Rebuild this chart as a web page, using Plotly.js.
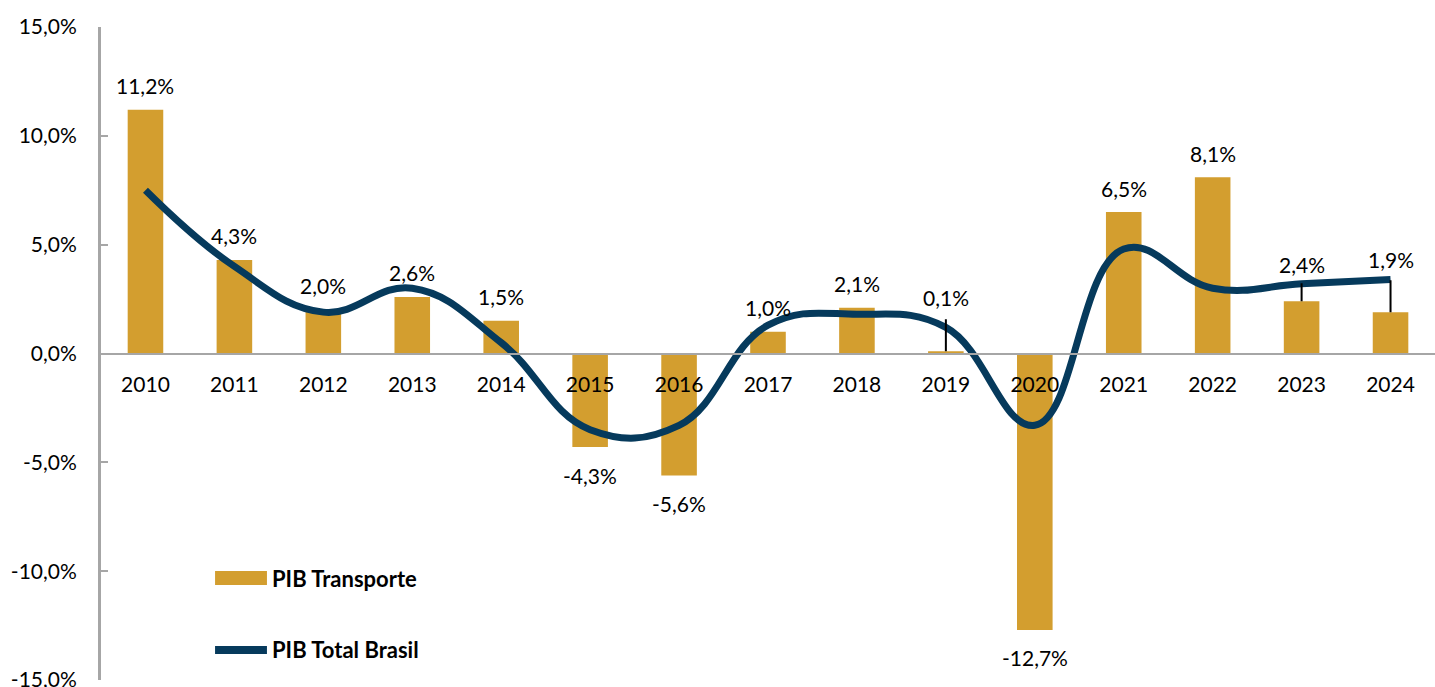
<!DOCTYPE html>
<html>
<head>
<meta charset="utf-8">
<script src="https://cdn.plot.ly/plotly-3.0.1.min.js"></script>
<style>
  html, body { margin: 0; padding: 0; background: #fff; }
  #chart { width: 1435px; height: 687px; }
</style>
</head>
<body>
<div id="chart"></div>
<script>
// ---- data ----
const years = ['2010','2011','2012','2013','2014','2015','2016','2017','2018','2019','2020','2021','2022','2023','2024'];
const pibTransporte = [11.2, 4.3, 2.0, 2.6, 1.5, -4.3, -5.6, 1.0, 2.1, 0.1, -12.7, 6.5, 8.1, 2.4, 1.9];
const pibTotalBrasil = [7.5, 4.0, 1.9, 3.0, 0.5, -3.5, -3.3, 1.3, 1.8, 1.2, -3.3, 4.8, 3.0, 3.2, 3.4];
const yTicks = [-15, -10, -5, 0, 5, 10, 15];
const seriesNames = ['PIB Transporte', 'PIB Total Brasil'];

// ---- style ----
const BAR_COLOR = '#d39e2f';
const LINE_COLOR = '#063a5c';
const AXIS_COLOR = '#a6a6a6';
const FONT = 'Lato, "Open Sans", sans-serif';
const FS = 21;

// labels that use a leader line (offset in px above the bar top)
const leader = { '2019': {ay: -54, stand: 8}, '2023': {ay: -37, stand: 5}, '2024': {ay: -53, stand: 7} };

function fmt(v) { return v.toFixed(1).replace('.', ',') + '%'; }

const bars = {
  type: 'bar', x: years, y: pibTransporte, name: seriesNames[0],
  marker: { color: BAR_COLOR }, showlegend: false, hoverinfo: 'x+y'
};
const line = {
  type: 'scatter', mode: 'lines', x: years, y: pibTotalBrasil, name: seriesNames[1],
  line: { color: LINE_COLOR, width: 7, shape: 'spline', smoothing: 1.2 },
  showlegend: false
};

const annotations = [];
years.forEach((yr, i) => {
  const v = pibTransporte[i];
  if (leader[yr]) {
    annotations.push({
      x: i, y: v, xref: 'x', yref: 'y', text: fmt(v), showarrow: true,
      ax: 0, ay: leader[yr].ay, arrowhead: 0, arrowwidth: 2, arrowcolor: '#000',
      startstandoff: leader[yr].stand, standoff: 0,
      font: { family: FONT, size: FS, color: '#000' }
    });
  } else {
    annotations.push({
      x: i, y: v, xref: 'x', yref: 'y', text: fmt(v), showarrow: false,
      xanchor: 'center', yanchor: 'middle', yshift: v >= 0 ? 24 : -28,
      font: { family: FONT, size: FS, color: '#000' }
    });
  }
});

// custom legend
annotations.push({
  xref: 'paper', yref: 'paper', x: 0.127, y: 0.156, xanchor: 'left', yanchor: 'middle',
  text: '<b>' + seriesNames[0] + '</b>', showarrow: false,
  font: { family: FONT, size: 22, color: '#000' }
});
annotations.push({
  xref: 'paper', yref: 'paper', x: 0.127, y: 0.046, xanchor: 'left', yanchor: 'middle',
  text: '<b>' + seriesNames[1] + '</b>', showarrow: false,
  font: { family: FONT, size: 22, color: '#000' }
});

const shapes = [
  { type: 'rect', xref: 'paper', yref: 'paper', x0: 0.0855, x1: 0.1244, y0: 0.1455, y1: 0.1669,
    fillcolor: BAR_COLOR, line: { width: 0 } },
  { type: 'line', xref: 'paper', yref: 'paper', x0: 0.0855, x1: 0.1244, y0: 0.046, y1: 0.046,
    line: { color: LINE_COLOR, width: 8 } }
];

const layout = {
  width: 1435, height: 687,
  margin: { l: 101, r: 0, t: 27, b: 7 },
  paper_bgcolor: '#fff', plot_bgcolor: '#fff',
  font: { family: FONT, size: FS, color: '#000' },
  showlegend: false,
  bargap: 0.6,
  xaxis: {
    type: 'category', range: [-0.5, years.length - 0.5], autorange: false,
    anchor: 'free', position: 0.5,
    showline: true, linecolor: AXIS_COLOR, linewidth: 2,
    ticks: '', showgrid: false, zeroline: false,
    ticklabelstandoff: 12,
    tickfont: { family: FONT, size: FS, color: '#000' }
  },
  yaxis: {
    range: [-15, 15], autorange: false,
    tickvals: yTicks, ticktext: yTicks.map(fmt),
    showline: true, linecolor: AXIS_COLOR, linewidth: 3,
    ticks: 'inside', ticklen: 7, tickwidth: 2, tickcolor: AXIS_COLOR,
    showgrid: false, zeroline: false,
    ticklabelstandoff: 17, ticklabeloverflow: 'allow',
    tickfont: { family: FONT, size: FS, color: '#000' }
  },
  annotations: annotations,
  shapes: shapes
};

Plotly.newPlot('chart', [bars, line], layout, { displayModeBar: false, staticPlot: true });
</script>
</body>
</html>
